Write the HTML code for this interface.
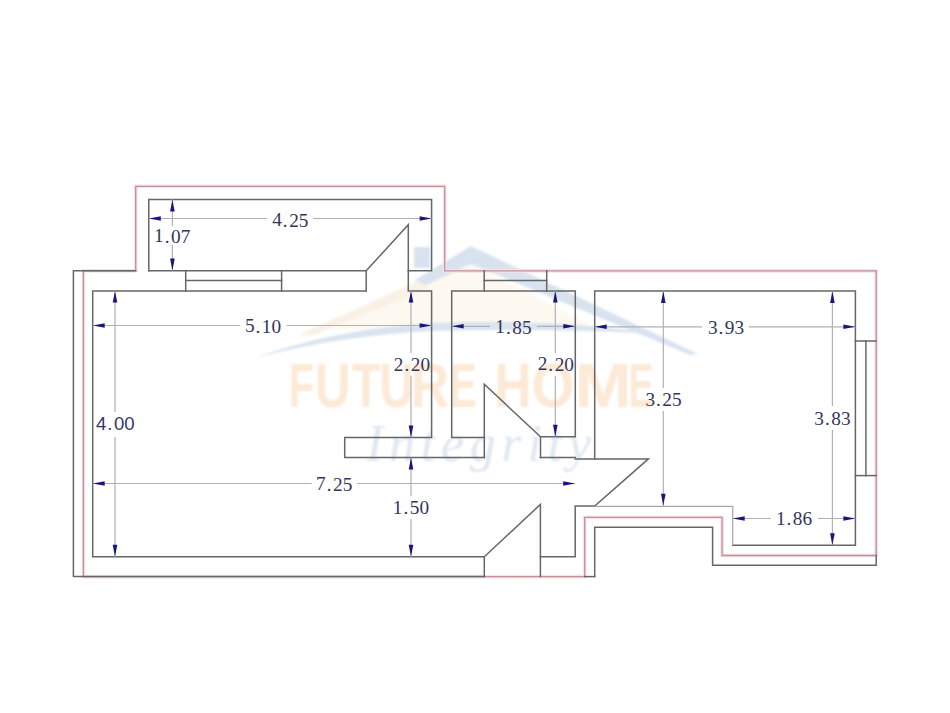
<!DOCTYPE html>
<html>
<head>
<meta charset="utf-8">
<style>
html,body{margin:0;padding:0;background:#fff;}
body{width:950px;height:713px;overflow:hidden;}
svg{display:block;}
.w{stroke:#666;stroke-width:1.5;fill:none;stroke-linecap:square;}
.r{stroke:#c4909a;stroke-width:1.3;fill:none;}
.rh{stroke:#f7e2e4;stroke-width:3.6;fill:none;}
.lt{stroke:#a6a6a6;stroke-width:1.2;fill:none;}
.d{stroke:#b0b0b6;stroke-width:1.2;fill:none;}
.a{fill:#17177e;}
.t{font-family:"Liberation Serif",serif;font-size:19.3px;fill:#34345a;text-anchor:middle;dominant-baseline:central;}
.ts{font-family:"Liberation Sans",sans-serif;font-size:18.6px;fill:#35356a;text-anchor:middle;dominant-baseline:central;}
</style>
</head>
<body>
<svg width="950" height="713" viewBox="0 0 950 713">
<rect x="0" y="0" width="950" height="713" fill="#fff"/>

<!-- watermark -->
<defs>
  <filter id="bl" x="-10%" y="-10%" width="120%" height="120%"><feGaussianBlur stdDeviation="1.3"/></filter>
  <filter id="bl2" x="-10%" y="-10%" width="120%" height="120%"><feGaussianBlur stdDeviation="0.9"/></filter>
</defs>
<g filter="url(#bl)">
  <!-- roof interior cream -->
  <polygon points="471,264 330,330 600,330" fill="#fdf9f0"/>
  <!-- chimney -->
  <rect x="414" y="247" width="16" height="21" fill="#d8e3ef"/>
  <!-- roof chevron -->
  <polygon points="471,246 698,354 690,355 471,264 420,288 415,280" fill="#d8e3ef"/>
  <!-- left arm (peach/cream) -->
  <polygon points="418,281 300,334 312,336 430,288" fill="#faf1e6"/>
  <!-- swoosh -->
  <path d="M252,359 Q330,330 430,323 Q560,318 655,334 Q560,328 430,331 Q330,337 252,359 Z" fill="#d9e4f0"/>
</g>
<g filter="url(#bl2)" font-family="Liberation Sans, sans-serif" font-weight="bold" font-size="62.5" fill="#fce9d6">
<text transform="translate(288.73,406.6) scale(0.658,1)">F</text>
<text transform="translate(314.93,406.6) scale(0.787,1)">U</text>
<text transform="translate(351.77,406.6) scale(0.747,1)">T</text>
<text transform="translate(379.52,406.6) scale(0.763,1)">U</text>
<text transform="translate(410.68,406.6) scale(0.849,1)">R</text>
<text transform="translate(449.44,406.6) scale(0.654,1)">E</text>
<text transform="translate(494.40,406.6) scale(0.819,1)">H</text>
<text transform="translate(531.41,406.6) scale(0.884,1)">O</text>
<text transform="translate(574.73,406.6) scale(1.092,1)">M</text>
<text transform="translate(628.67,406.6) scale(0.597,1)">E</text>
</g>
<g filter="url(#bl2)">
  <text x="366" y="461" font-family="Liberation Serif, serif" font-style="italic" font-size="52" fill="#dfe7f1" textLength="225" lengthAdjust="spacing">Integrity</text>
</g>

<!-- red outline -->
<polygon class="rh" points="83.4,270.8 135.7,270.8 135.7,186.3 444.7,186.3 444.7,270.9 876.2,270.9 876.2,555.5 722.1,555.5 722.1,517.3 584.7,517.3 584.7,576.6 83.4,576.6"/>
<polygon class="r" points="83.4,270.8 135.7,270.8 135.7,186.3 444.7,186.3 444.7,270.9 876.2,270.9 876.2,555.5 722.1,555.5 722.1,517.3 584.7,517.3 584.7,576.6 83.4,576.6"/>

<!-- walls -->
<g class="w">
  <!-- outer left -->
  <polyline points="135.7,270.8 73.4,270.8 73.4,576.5 484.3,576.5"/>
  <line x1="584.7" y1="576.6" x2="594.7" y2="576.6"/>
  <!-- upper small room -->
  <polyline points="148.8,270.8 148.8,199.6 431.6,199.6 431.6,270.8 408.3,270.8"/>
  <line x1="148.8" y1="270.8" x2="366.2" y2="270.8"/>
  <polyline points="366.2,270.8 408.3,224.8 408.3,291.1 431.6,291.1 431.6,437.4 344.7,437.4 344.7,457.4 484.3,457.4"/>
  <!-- window left -->
  <line x1="185.7" y1="270.8" x2="185.7" y2="291.1"/>
  <line x1="281.6" y1="270.8" x2="281.6" y2="291.1"/>
  <line x1="366.2" y1="270.8" x2="366.2" y2="291.1"/>
  <line x1="185.7" y1="280.6" x2="281.6" y2="280.6"/>
  <!-- main room -->
  <polyline points="366.2,291.1 92.7,291.1 92.7,556.8 484.3,556.8"/>
  <!-- bathroom -->
  <polyline points="484.3,437.4 451.7,437.4 451.7,291.1 575.3,291.1 575.3,436.8 540.5,436.8 540.5,457.4"/>
  <polyline points="484.3,457.4 484.3,384.3 540.5,436.8"/>
  <line x1="484.2" y1="270.8" x2="484.2" y2="291.1"/>
  <line x1="546.7" y1="270.8" x2="546.7" y2="291.1"/>
  <line x1="484.2" y1="280.6" x2="546.7" y2="280.6"/>
  <!-- corridor -->
  <polyline points="540.5,457.4 575.2,457.4"/>
  <polyline points="575.2,458.9 648.4,458.9 594.7,506.1 575.2,506.1 575.2,556.8 540.4,556.8"/>
  <!-- bottom door -->
  <polyline points="484.3,576.5 484.3,556.8 540.4,504.4 540.4,576.5"/>
  <!-- right room -->
  <polyline points="594.7,458.9 594.7,291 855.4,291 855.4,545.2 732.7,545.2"/>
  <!-- right window -->
  <polyline points="855.4,341 876.2,341"/>
  <polyline points="855.4,475.6 876.2,475.6"/>
  <line x1="865.9" y1="341" x2="865.9" y2="475.6"/>
  <!-- lower right outer -->
  <polyline points="594.7,576.6 594.7,527.3 712.6,527.3 712.6,565.3 876.2,565.3 876.2,555.5"/>
</g>
<g class="lt">
  <polyline points="594.7,506.3 732.7,506.3 732.7,545.2"/>
</g>

<!-- dimension lines -->
<g class="d">
  <!-- 1.07 -->
  <line x1="172.4" y1="199.6" x2="172.4" y2="226"/>
  <line x1="172.4" y1="245" x2="172.4" y2="270.8"/>
  <!-- 4.25 -->
  <line x1="148.8" y1="218.5" x2="267" y2="218.5"/>
  <line x1="313" y1="218.5" x2="431.6" y2="218.5"/>
  <!-- 5.10 -->
  <line x1="92.7" y1="325.5" x2="240" y2="325.5"/>
  <line x1="286.5" y1="325.5" x2="431.6" y2="325.5"/>
  <!-- 4.00 -->
  <line x1="115" y1="291.1" x2="115" y2="412"/>
  <line x1="115" y1="437" x2="115" y2="556.8"/>
  <!-- 7.25 -->
  <line x1="92.7" y1="483.5" x2="311.7" y2="483.5"/>
  <line x1="357" y1="483.5" x2="575.2" y2="483.5"/>
  <!-- 2.20 a -->
  <line x1="411" y1="291.1" x2="411" y2="353"/>
  <line x1="411" y1="376" x2="411" y2="437.4"/>
  <!-- 1.50 -->
  <line x1="411" y1="457.4" x2="411" y2="496"/>
  <line x1="411" y1="519" x2="411" y2="556.8"/>
  <!-- 1.85 -->
  <line x1="451.7" y1="326.3" x2="490" y2="326.3"/>
  <line x1="537" y1="326.3" x2="575.3" y2="326.3"/>
  <!-- 2.20 b -->
  <line x1="555.3" y1="291.1" x2="555.3" y2="353"/>
  <line x1="555.3" y1="376" x2="555.3" y2="436.8"/>
  <!-- 3.93 -->
  <line x1="594.7" y1="326.8" x2="702" y2="326.8"/>
  <line x1="749" y1="326.8" x2="855.4" y2="326.8"/>
  <!-- 3.25 -->
  <line x1="663.3" y1="291" x2="663.3" y2="388"/>
  <line x1="663.3" y1="411" x2="663.3" y2="505.7"/>
  <!-- 3.83 -->
  <line x1="832.4" y1="291" x2="832.4" y2="406"/>
  <line x1="832.4" y1="430" x2="832.4" y2="545.2"/>
  <!-- 1.86 -->
  <line x1="732.7" y1="518.5" x2="771" y2="518.5"/>
  <line x1="818" y1="518.5" x2="855.4" y2="518.5"/>
</g>

<!-- arrows -->
<g class="a">
  <!-- 1.07 -->
  <polygon points="172.4,199.6 170.1,211.6 174.7,211.6"/>
  <polygon points="172.4,270.8 170.1,258.6 174.7,258.6"/>
  <!-- 4.25 -->
  <polygon points="148.8,218.5 160.8,216.3 160.8,220.7"/>
  <polygon points="431.6,218.5 419.6,216.3 419.6,220.7"/>
  <!-- 5.10 -->
  <polygon points="92.7,325.5 104.7,323.3 104.7,327.7"/>
  <polygon points="431.6,325.5 419.6,323.3 419.6,327.7"/>
  <!-- 4.00 -->
  <polygon points="115,291.1 112.7,302.6 117.3,302.6"/>
  <polygon points="115,556.8 112.7,544.8 117.3,544.8"/>
  <!-- 7.25 -->
  <polygon points="92.7,483.5 104.7,481.3 104.7,485.7"/>
  <polygon points="575.2,483.5 563.2,481.3 563.2,485.7"/>
  <!-- 2.20 a -->
  <polygon points="411,291.1 408.7,302.6 413.3,302.6"/>
  <polygon points="411,437.4 408.7,425.4 413.3,425.4"/>
  <!-- 1.50 -->
  <polygon points="411,457.4 408.7,469.4 413.3,469.4"/>
  <polygon points="411,556.8 408.7,544.8 413.3,544.8"/>
  <!-- 1.85 -->
  <polygon points="451.7,326.3 463.7,324.1 463.7,328.5"/>
  <polygon points="575.3,326.3 563.3,324.1 563.3,328.5"/>
  <!-- 2.20 b -->
  <polygon points="555.3,291.1 553,302.6 557.6,302.6"/>
  <polygon points="555.3,436.8 553,424.8 557.6,424.8"/>
  <!-- 3.93 -->
  <polygon points="594.7,326.8 606.7,324.6 606.7,329"/>
  <polygon points="855.4,326.8 843.4,324.6 843.4,329"/>
  <!-- 3.25 -->
  <polygon points="663.3,291 661,303 665.6,303"/>
  <polygon points="663.3,505.7 661,493.7 665.6,493.7"/>
  <!-- 3.83 -->
  <polygon points="832.4,291 830.1,303 834.7,303"/>
  <polygon points="832.4,545.2 830.1,533.2 834.7,533.2"/>
  <!-- 1.86 -->
  <polygon points="732.7,518.5 744.7,516.3 744.7,520.7"/>
  <polygon points="855.4,518.5 843.4,516.3 843.4,520.7"/>
</g>

<!-- labels -->
<g>
  <text class="t" x="172.2" y="235.6">1<tspan dx="1">.</tspan><tspan dx="1.5">07</tspan></text>
  <text class="t" x="290.3" y="219.6">4<tspan dx="1">.</tspan><tspan dx="1.5">25</tspan></text>
  <text class="t" x="263" y="325.8">5<tspan dx="1">.</tspan><tspan dx="1.5">10</tspan></text>
  <text class="ts" x="115.3" y="423.3">4<tspan dx="1">.</tspan><tspan dx="1.5">00</tspan></text>
  <text class="t" x="334.2" y="483.7">7<tspan dx="1">.</tspan><tspan dx="1.5">25</tspan></text>
  <text class="t" x="411.9" y="364.1">2<tspan dx="1">.</tspan><tspan dx="1.5">20</tspan></text>
  <text class="t" x="410.9" y="507.2">1<tspan dx="1">.</tspan><tspan dx="1.5">50</tspan></text>
  <text class="t" x="513.4" y="326.5">1<tspan dx="1">.</tspan><tspan dx="1.5">85</tspan></text>
  <text class="t" x="555.8" y="363.9">2<tspan dx="1">.</tspan><tspan dx="1.5">20</tspan></text>
  <text class="t" x="726" y="327.2">3<tspan dx="1">.</tspan><tspan dx="1.5">93</tspan></text>
  <text class="t" x="663.5" y="399.1">3<tspan dx="1">.</tspan><tspan dx="1.5">25</tspan></text>
  <text class="t" x="832.4" y="418.1">3<tspan dx="1">.</tspan><tspan dx="1.5">83</tspan></text>
  <text class="t" x="794.0" y="518.4">1<tspan dx="1">.</tspan><tspan dx="1.5">86</tspan></text>
</g>
</svg>
</body>
</html>
